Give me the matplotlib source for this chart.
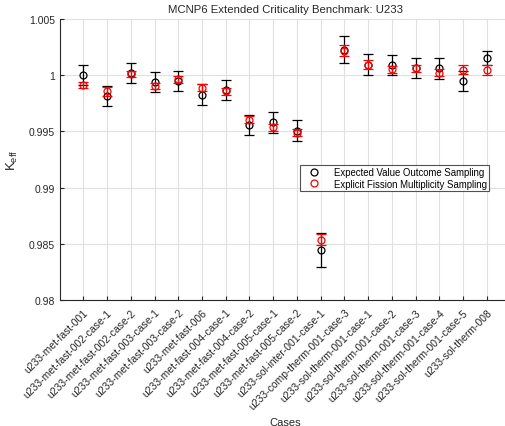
import matplotlib
matplotlib.use("Agg")
import matplotlib.pyplot as plt
import numpy as np
from matplotlib.lines import Line2D

plt.rcParams['font.family'] = ['Liberation Sans', 'DejaVu Sans']

cases = ["u233-met-fast-001", "u233-met-fast-002-case-1", "u233-met-fast-002-case-2",
         "u233-met-fast-003-case-1", "u233-met-fast-003-case-2", "u233-met-fast-006",
         "u233-met-fast-004-case-1", "u233-met-fast-004-case-2", "u233-met-fast-005-case-1",
         "u233-met-fast-005-case-2", "u233-sol-inter-001-case-1", "u233-comp-therm-001-case-3",
         "u233-sol-therm-001-case-1", "u233-sol-therm-001-case-2", "u233-sol-therm-001-case-3",
         "u233-sol-therm-001-case-4", "u233-sol-therm-001-case-5", "u233-sol-therm-008"]

evos_k = [1.0000, 0.99818, 1.00018, 0.99942, 0.99950, 0.99828, 0.99870, 0.99560, 0.99580,
          0.99508, 0.98443, 1.00225, 1.00095, 1.00090, 1.00063, 1.00060, 0.99950, 1.00155]
evos_err = [0.0009, 0.0009, 0.0009, 0.0009, 0.0009, 0.0009, 0.0009, 0.0009, 0.0009,
            0.0009, 0.0015, 0.0012, 0.0009, 0.0009, 0.0009, 0.0009, 0.0009, 0.0006]

efms_k = [0.99912, 0.99855, 1.00010, 0.99905, 0.99965, 0.99890, 0.99855, 0.99605, 0.99535,
          0.99490, 0.98535, 1.00218, 1.00095, 1.00053, 1.00060, 1.00024, 1.00047, 1.00047]
efms_err = [0.0003, 0.0004, 0.0003, 0.0003, 0.0003, 0.0003, 0.0003, 0.0003, 0.0003,
            0.0003, 0.0005, 0.0005, 0.0004, 0.0003, 0.0003, 0.0003, 0.0004, 0.00045]

yticks = [0.98, 0.985, 0.99, 0.995, 1.0, 1.005]
yticklabels = ["0.98", "0.985", "0.99", "0.995", "1", "1.005"]

fig = plt.figure(figsize=(5.05, 4.27), dpi=100)
ax = fig.add_axes([59.6 / 505, 126 / 427, 451 / 505, 281 / 427])

x = np.arange(1, len(cases) + 1)
ax.errorbar(x, evos_k, yerr=evos_err, fmt='o', mfc='none', mec='black', ecolor='black',
            color='black', ms=5, mew=0.9, elinewidth=0.9, capsize=3.6, capthick=0.9,
            label='Expected Value Outcome Sampling', zorder=3)
ax.errorbar(x, efms_k, yerr=efms_err, fmt='o', mfc='none', mec='red', ecolor='red',
            color='red', ms=5, mew=0.9, elinewidth=0.9, capsize=3.6, capthick=0.9,
            label='Explicit Fission Multiplicity Sampling', zorder=4)

ax.set_xlim(0, 19)
ax.set_ylim(0.98, 1.005)
ax.set_xticks(x)
ax.set_xticklabels(cases, rotation=45, ha='right', rotation_mode='anchor', fontsize=7.5,
                   color='#262626')
ax.set_yticks(yticks)
ax.set_yticklabels(yticklabels, fontsize=7.5, color='#262626')
ax.tick_params(direction='in', length=3, width=0.8, colors='#262626')
ax.tick_params(axis='x', pad=5)
ax.grid(True, color='#e0e0e0', linewidth=0.8)
ax.set_axisbelow(True)
for s in ['top', 'right']:
    ax.spines[s].set_visible(False)
for s in ['left', 'bottom']:
    ax.spines[s].set_color('#262626')
    ax.spines[s].set_linewidth(0.8)

ax.set_title('MCNP6 Extended Criticality Benchmark: U233', fontsize=8.2, color='#262626', pad=5)
ax.set_xlabel('Cases', fontsize=8, color='#262626')
ax.set_ylabel(r'K$_{\mathregular{eff}}$', fontsize=9.5, color='#262626', labelpad=6)

handles = [Line2D([], [], ls='none', marker='o', mfc='none', mec='black', ms=5, mew=0.9),
           Line2D([], [], ls='none', marker='o', mfc='none', mec='red', ms=5, mew=0.9)]
leg = ax.legend(handles, ['Expected Value Outcome Sampling', 'Explicit Fission Multiplicity Sampling'],
                loc='upper left', bbox_to_anchor=(300 / 505, 1 - 166 / 427), bbox_transform=fig.transFigure,
                fontsize=6.9, frameon=True, fancybox=False, edgecolor='#262626',
                borderpad=0.25, labelspacing=0.15, handletextpad=0.8, handlelength=2.5,
                borderaxespad=0)
leg.get_frame().set_linewidth(0.8)

fig.savefig('out.png', dpi=100)
